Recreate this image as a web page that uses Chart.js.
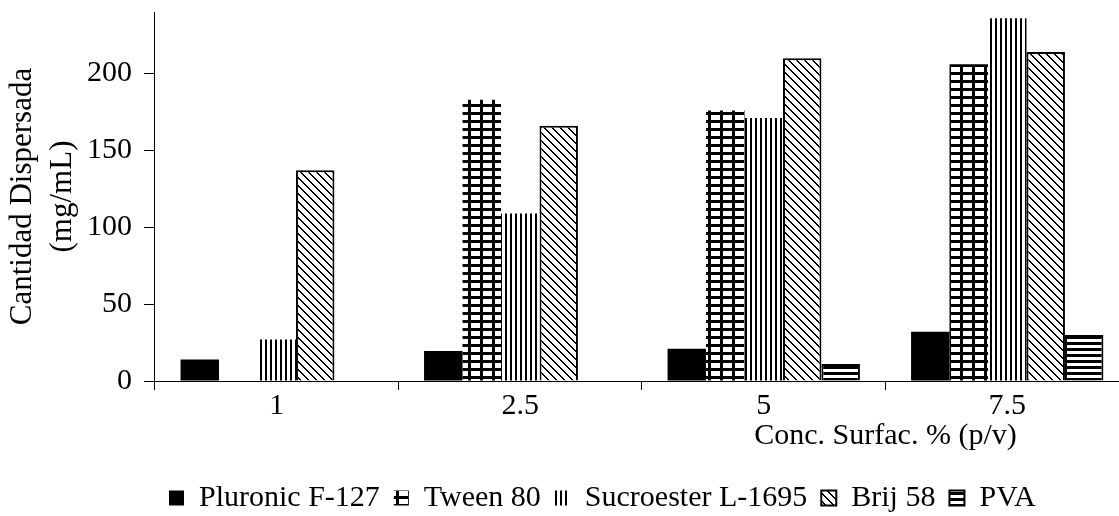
<!DOCTYPE html>
<html lang="es">
<head>
<meta charset="utf-8">
<title>Cantidad Dispersada</title>
<script src="https://cdn.jsdelivr.net/npm/chart.js@4.4.1/dist/chart.umd.min.js"></script>
<style>
  html, body { margin: 0; padding: 0; background: #fff; overflow: hidden; }
  canvas { display: block; }
</style>
</head>
<body>
<canvas id="graficoBarras" width="1129" height="516"></canvas>
<script>
// Datos
const categorias = ["1", "2.5", "5", "7.5"];
const pluronic = [14, 19.5, 21, 32];
const tween = [null, 183, 176, 206];
const sucroester = [27, 109, 171, 236];
const brij = [137, 166, 210, 214];
const pva = [null, null, 11, 30];
const ticksY = [0, 50, 100, 150, 200];

const fuente = '"Liberation Serif", "Times New Roman", serif';
const canvas = document.getElementById("graficoBarras");
const ctx = canvas.getContext("2d");

// Crea un patrón de relleno en blanco y negro
function patron(ancho, alto, dibujar) {
    const c = document.createElement("canvas");
    c.width = ancho;
    c.height = alto;
    const g = c.getContext("2d");
    g.fillStyle = "#fff";
    g.fillRect(0, 0, ancho, alto);
    g.fillStyle = "#000";
    dibujar(g);
    return ctx.createPattern(c, "repeat");
}

const rejilla = patron(12, 8, g => {
    g.fillRect(0, 0, 3, 8);
    g.fillRect(0, 0, 12, 3);
});
const verticales = patron(5, 1, g => g.fillRect(0, 0, 2, 1));
const horizontales = patron(1, 6, g => g.fillRect(0, 0, 1, 3));
const diagonal = patron(8, 8, g => {
    for (let i = 0; i < 8; i++) {
        g.fillRect(i, i, 2, 1);
    }
    g.fillRect(0, 7, 1, 1);
});

// Título del eje X (va desplazado a la derecha como en el original)
const tituloEjeX = {
    id: "tituloEjeX",
    afterDraw(chart) {
        const x = chart.scales.x;
        const centro = (x.getPixelForTick(2) + x.getPixelForTick(3)) / 2;
        const c = chart.ctx;
        c.save();
        c.font = "30px " + fuente;
        c.fillStyle = "#000";
        c.textAlign = "center";
        c.textBaseline = "middle";
        c.fillText("Conc. Surfac. % (p/v)", centro, x.top + 55);
        c.restore();
    }
};

new Chart(ctx, {
    type: "bar",
    data: {
        labels: categorias,
        datasets: [
            { label: "Pluronic F-127", data: pluronic, backgroundColor: "#000", borderWidth: 0 },
            { label: "Tween 80", data: tween, backgroundColor: rejilla, borderWidth: 0 },
            { label: "Sucroester L-1695", data: sucroester, backgroundColor: verticales, borderWidth: 0 },
            { label: "Brij 58", data: brij, backgroundColor: diagonal, borderColor: "#000", borderWidth: 2 },
            { label: "PVA", data: pva, backgroundColor: horizontales, borderColor: "#000", borderWidth: 2 }
        ]
    },
    options: {
        responsive: false,
        animation: false,
        datasets: {
            bar: { categoryPercentage: 0.79, barPercentage: 1 }
        },
        layout: { padding: { top: 12, left: 3, right: 0, bottom: 0 } },
        plugins: {
            tooltip: { enabled: false },
            legend: {
                position: "bottom",
                align: "start",
                fullSize: false,
                maxHeight: 47,
                labels: {
                    color: "#000",
                    font: { family: fuente, size: 30 },
                    boxWidth: 15,
                    boxHeight: 15,
                    padding: 14
                }
            }
        },
        scales: {
            x: {
                grid: { offset: true, drawOnChartArea: false, tickLength: 9, color: "#000" },
                border: { color: "#000", width: 1 },
                ticks: { color: "#000", font: { family: fuente, size: 30, lineHeight: 1.1 }, padding: 0 },
                afterFit: escala => { escala.height += 46; }
            },
            y: {
                min: 0,
                max: 240,
                grid: { drawOnChartArea: false, tickLength: 11, color: "#000" },
                border: { color: "#000", width: 1 },
                afterBuildTicks: escala => {
                    escala.ticks = ticksY.map(v => ({ value: v }));
                },
                ticks: { color: "#000", font: { family: fuente, size: 30, lineHeight: 0 }, padding: 12 },
                title: {
                    display: true,
                    text: ["Cantidad Dispersada", "(mg/mL)"],
                    color: "#000",
                    font: { family: fuente, size: 31, lineHeight: 1.29 },
                    padding: { top: 0, bottom: -8 }
                }
            }
        }
    },
    plugins: [tituloEjeX]
});
</script>
</body>
</html>
